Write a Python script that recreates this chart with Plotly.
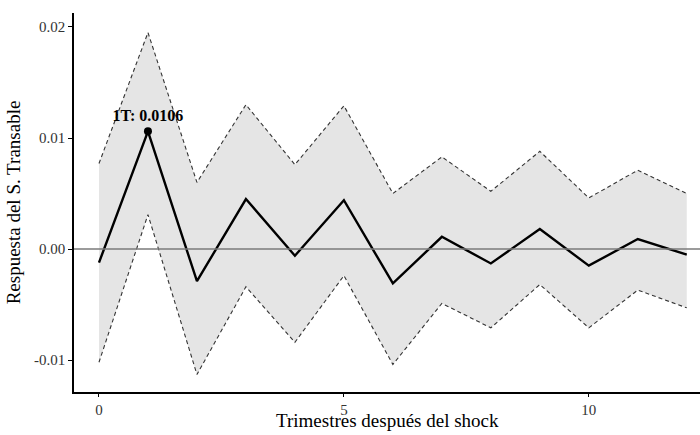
import plotly.graph_objects as go

horizon = list(range(13))
response = [-0.00123, 0.0106, -0.0029, 0.0045, -0.0006, 0.0044, -0.0031, 0.0011, -0.0013, 0.0018, -0.0015, 0.0009, -0.0005]
upper = [0.0077, 0.0195, 0.0060, 0.0130, 0.0076, 0.0129, 0.0050, 0.0083, 0.0052, 0.0088, 0.0046, 0.0071, 0.0050]
lower = [-0.0102, 0.0031, -0.0113, -0.0034, -0.0084, -0.0024, -0.0104, -0.0049, -0.0071, -0.0032, -0.0071, -0.0037, -0.0053]
peak_label = "1T: 0.0106"
x_title = "Trimestres después del shock"
y_title = "Respuesta del S. Transable"

font_family = "Liberation Serif, Times New Roman, serif"

fig = go.Figure()
fig.add_trace(go.Scatter(x=horizon, y=lower, mode="lines", line=dict(width=0, color="rgba(0,0,0,0)"),
                         showlegend=False, hoverinfo="skip"))
fig.add_trace(go.Scatter(x=horizon, y=upper, mode="lines", line=dict(width=0, color="rgba(0,0,0,0)"),
                         fill="tonexty", fillcolor="#e5e5e5", showlegend=False, hoverinfo="skip"))
fig.add_hline(y=0, line=dict(color="#7a7a7a", width=1.5), layer="above")
fig.add_trace(go.Scatter(x=horizon, y=upper, mode="lines", line=dict(color="#333333", width=1.1, dash="4px,3px"),
                         showlegend=False))
fig.add_trace(go.Scatter(x=horizon, y=lower, mode="lines", line=dict(color="#333333", width=1.1, dash="4px,3px"),
                         showlegend=False))
fig.add_trace(go.Scatter(x=horizon, y=response, mode="lines", line=dict(color="black", width=2.4),
                         showlegend=False))
fig.add_trace(go.Scatter(x=[horizon[1]], y=[response[1]], mode="markers+text", marker=dict(color="black", size=8),
                         text=["<b>" + peak_label + "</b>"], textposition="top center",
                         textfont=dict(family=font_family, size=16, color="black"), showlegend=False))

fig.update_layout(
    width=700, height=435,
    margin=dict(l=74, r=0, t=13, b=43),
    plot_bgcolor="white", paper_bgcolor="white",
    font=dict(family=font_family, color="black"),
    showlegend=False,
)
fig.add_annotation(text=x_title, xref="paper", yref="paper", x=0.5, y=-0.108,
                   xanchor="center", yanchor="bottom", showarrow=False,
                   font=dict(family=font_family, size=19, color="black"))
fig.update_xaxes(range=[-0.51, 12.27], tickvals=[0, 5, 10], ticktext=["0", "5", "10"], automargin=False,
                 showgrid=False, zeroline=False, showline=True, linecolor="black", linewidth=1.5,
                 ticks="outside", ticklen=3, tickcolor="black", tickfont=dict(size=15, color="#333"))
fig.update_yaxes(range=[-0.01288, 0.02126], tickvals=[-0.01, 0, 0.01, 0.02], automargin=False,
                 ticktext=["-0.01", "0.00", "0.01", "0.02"],
                 showgrid=False, zeroline=False, showline=True, linecolor="black", linewidth=1.5,
                 ticks="outside", ticklen=4, tickcolor="black", tickfont=dict(size=15, color="#333"),
                 title=dict(text=y_title, font=dict(size=19), standoff=8))

fig.write_html("out.html")
